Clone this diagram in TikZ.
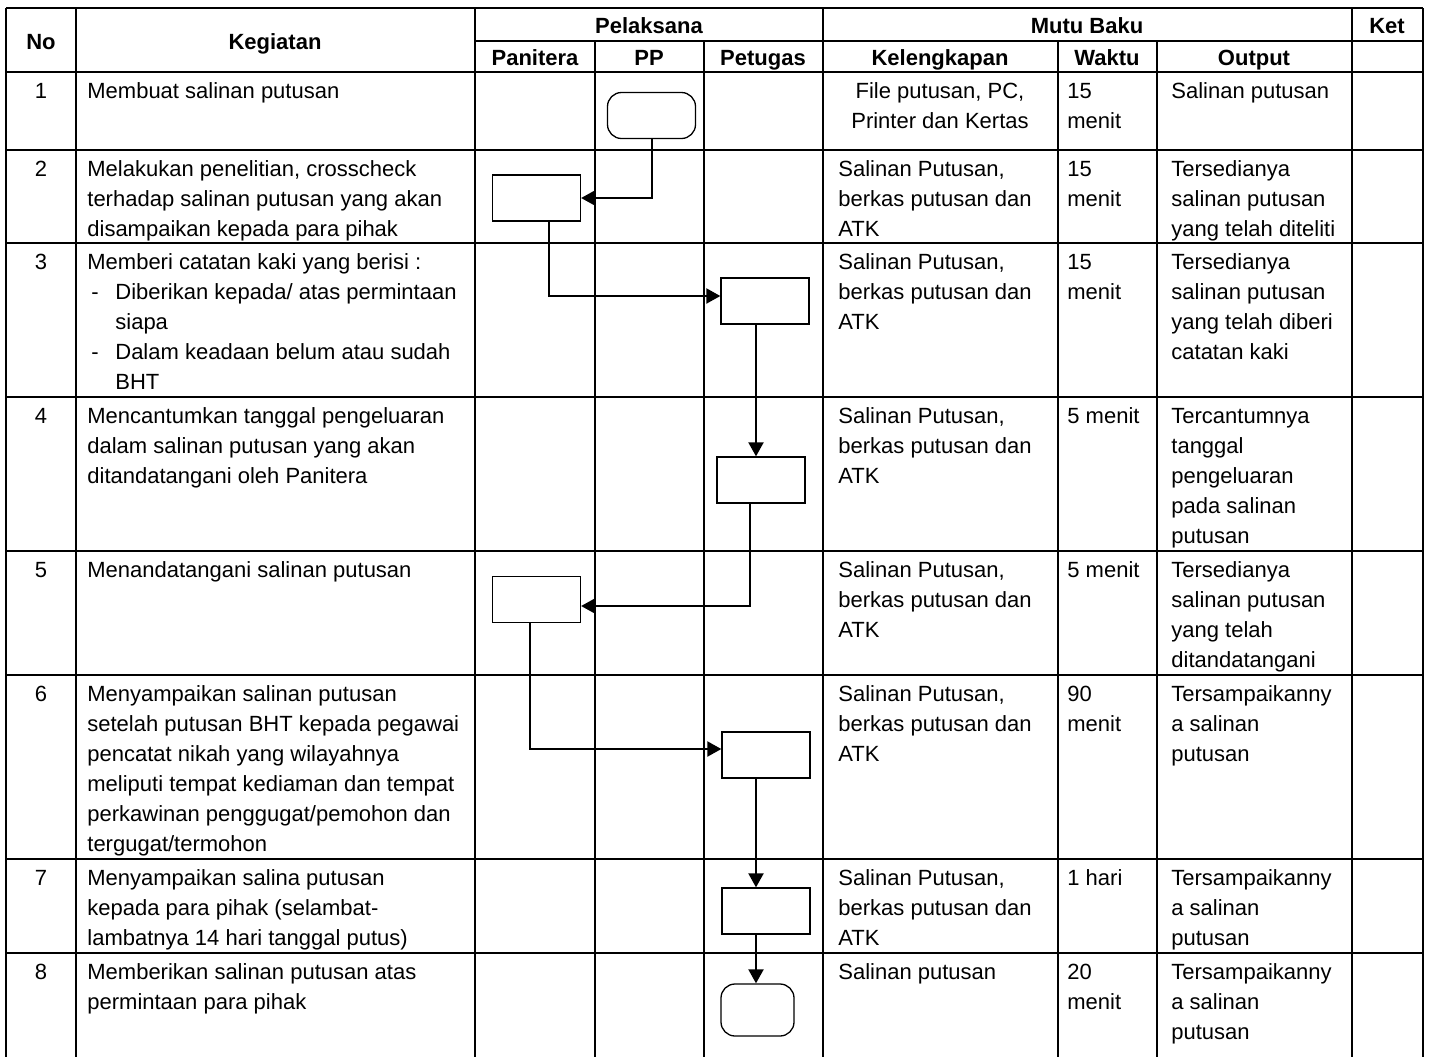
\documentclass[tikz,border=0pt]{standalone}
\usepackage{fontspec}
\setmainfont{Liberation Sans}
\usetikzlibrary{arrows.meta}

\begin{document}
\begin{tikzpicture}[
  x=0.5pt, y=-0.5pt,
  grid/.style={line width=1pt},
  txt/.style={anchor=north west, inner sep=0pt, align=left, font=\fontsize{11}{15}\selectfont},
  num/.style={txt, anchor=north},
  hd/.style={anchor=base, inner sep=0pt, font=\fontsize{11}{15}\selectfont\bfseries},
  box/.style={draw, line width=0.65pt, minimum width=44pt, minimum height=23pt, inner sep=0pt},
  term/.style={box, rounded corners=7pt},
  flow/.style={line width=1pt, -{Triangle[length=7pt,width=7.5pt]}}
  ]
  \useasboundingbox (0,0) rectangle (1430,1056);

  % table lines
  \foreach \y in {8,72,150,243,397,551,675,859,953}
    \draw[grid] (6,\y) -- (1423,\y);
  \draw[grid] (475,41) -- (1423,41);
  \foreach \x in {6,76,475,823,1352,1423}
    \draw[grid] (\x,8) -- (\x,1060);
  \foreach \x in {595,704,1058,1157}
    \draw[grid] (\x,41) -- (\x,1060);

  % header
  \node[hd] (hNo) at (41,49) {No};
  \node[hd] (hKeg) at (275,49) {Kegiatan};
  \node[hd] (hPel) at (649,33) {Pelaksana};
  \node[hd] (hMutu) at (1087,33) {Mutu Baku};
  \node[hd] (hKet) at (1387,33) {Ket};
  \node[hd] (hPan) at (535,65) {Panitera};
  \node[hd] (hPP) at (649,65) {PP};
  \node[hd] (hPet) at (763,65) {Petugas};
  \node[hd] (hKel) at (940,65) {Kelengkapan};
  \node[hd] (hWak) at (1107,65) {Waktu};
  \node[hd] (hOut) at (1254,65) {Output};

  % row 1
  \node[num] (n1) at (41,77) {\strut 1};
  \node[txt] (k1) at (87,77) {\strut Membuat salinan putusan};
  \node[txt, anchor=north, align=center] (l1) at (940,77) {\strut File putusan, PC,\\Printer dan Kertas};
  \node[txt] (w1) at (1067,77) {\strut 15\\menit};
  \node[txt] (o1) at (1171,77) {\strut Salinan putusan};

  % row 2
  \node[num] (n2) at (41,155) {\strut 2};
  \node[txt] (k2) at (87,155) {\strut Melakukan penelitian, crosscheck\\terhadap salinan putusan yang akan\\disampaikan kepada para pihak};
  \node[txt] (l2) at (838,155) {\strut Salinan Putusan,\\berkas putusan dan\\ATK};
  \node[txt] (w2) at (1067,155) {\strut 15\\menit};
  \node[txt] (o2) at (1171,155) {\strut Tersedianya\\salinan putusan\\yang telah diteliti};

  % row 3
  \node[num] (n3) at (41,248) {\strut 3};
  \node[txt] (k3) at (87,248) {\strut Memberi catatan kaki yang berisi :\\
    \hspace*{2pt}\makebox[12pt][l]{-}Diberikan kepada/ atas permintaan\\
    \hspace*{14pt}siapa\\
    \hspace*{2pt}\makebox[12pt][l]{-}Dalam keadaan belum atau sudah\\
    \hspace*{14pt}BHT};
  \node[txt] (l3) at (838,248) {\strut Salinan Putusan,\\berkas putusan dan\\ATK};
  \node[txt] (w3) at (1067,248) {\strut 15\\menit};
  \node[txt] (o3) at (1171,248) {\strut Tersedianya\\salinan putusan\\yang telah diberi\\catatan kaki};

  % row 4
  \node[num] (n4) at (41,402) {\strut 4};
  \node[txt] (k4) at (87,402) {\strut Mencantumkan tanggal pengeluaran\\dalam salinan putusan yang akan\\ditandatangani oleh Panitera};
  \node[txt] (l4) at (838,402) {\strut Salinan Putusan,\\berkas putusan dan\\ATK};
  \node[txt] (w4) at (1067,402) {\strut 5 menit};
  \node[txt] (o4) at (1171,402) {\strut Tercantumnya\\tanggal\\pengeluaran\\pada salinan\\putusan};

  % row 5
  \node[num] (n5) at (41,556) {\strut 5};
  \node[txt] (k5) at (87,556) {\strut Menandatangani salinan putusan};
  \node[txt] (l5) at (838,556) {\strut Salinan Putusan,\\berkas putusan dan\\ATK};
  \node[txt] (w5) at (1067,556) {\strut 5 menit};
  \node[txt] (o5) at (1171,556) {\strut Tersedianya\\salinan putusan\\yang telah\\ditandatangani};

  % row 6
  \node[num] (n6) at (41,680) {\strut 6};
  \node[txt] (k6) at (87,680) {\strut Menyampaikan salinan putusan\\setelah putusan BHT kepada pegawai\\pencatat nikah yang wilayahnya\\meliputi tempat kediaman dan tempat\\perkawinan penggugat/pemohon dan\\tergugat/termohon};
  \node[txt] (l6) at (838,680) {\strut Salinan Putusan,\\berkas putusan dan\\ATK};
  \node[txt] (w6) at (1067,680) {\strut 90\\menit};
  \node[txt] (o6) at (1171,680) {\strut Tersampaikanny\\a salinan\\putusan};

  % row 7
  \node[num] (n7) at (41,864) {\strut 7};
  \node[txt] (k7) at (87,864) {\strut Menyampaikan salina putusan\\kepada para pihak (selambat-\\lambatnya 14 hari tanggal putus)};
  \node[txt] (l7) at (838,864) {\strut Salinan Putusan,\\berkas putusan dan\\ATK};
  \node[txt] (w7) at (1067,864) {\strut 1 hari};
  \node[txt] (o7) at (1171,864) {\strut Tersampaikanny\\a salinan\\putusan};

  % row 8
  \node[num] (n8) at (41,958) {\strut 8};
  \node[txt] (k8) at (87,958) {\strut Memberikan salinan putusan atas\\permintaan para pihak};
  \node[txt] (l8) at (838,958) {\strut Salinan putusan};
  \node[txt] (w8) at (1067,958) {\strut 20\\menit};
  \node[txt] (o8) at (1171,958) {\strut Tersampaikanny\\a salinan\\putusan};

  % flow
  \node[term] (t1) at (651.5,115.5) {};
  \node[box] (r2) at (536.5,198) {};
  \node[box] (r3) at (765,301) {};
  \node[box] (r4) at (761,480) {};
  \node[box] (r5) at (536.5,599.5) {};
  \node[box] (r6) at (766,755) {};
  \node[box] (r7) at (766,911) {};
  \node[term, minimum width=36.5pt, minimum height=26pt] (t8) at (757.5,1010) {};

  \draw[flow] (t1.south) |- (r2.east);
  \draw[flow] ([xshift=6pt]r2.south) |- ([yshift=2.5pt]r3.west);
  \draw[flow] ([xshift=-4.5pt]r3.south) -- ([xshift=-4.5pt]r3.south |- r4.north);
  \draw[flow] ([xshift=-5.5pt]r4.south) |- ([yshift=-3.25pt]r5.east);
  \draw[flow] ([xshift=-3.25pt]r5.south) |- ([yshift=3pt]r6.west);
  \draw[flow] ([xshift=-5pt]r6.south) -- ([xshift=-5pt]r6.south |- r7.north);
  \draw[flow] ([xshift=-5pt]r7.south) -- ([xshift=-5pt]r7.south |- t8.north);
\end{tikzpicture}
\end{document}
